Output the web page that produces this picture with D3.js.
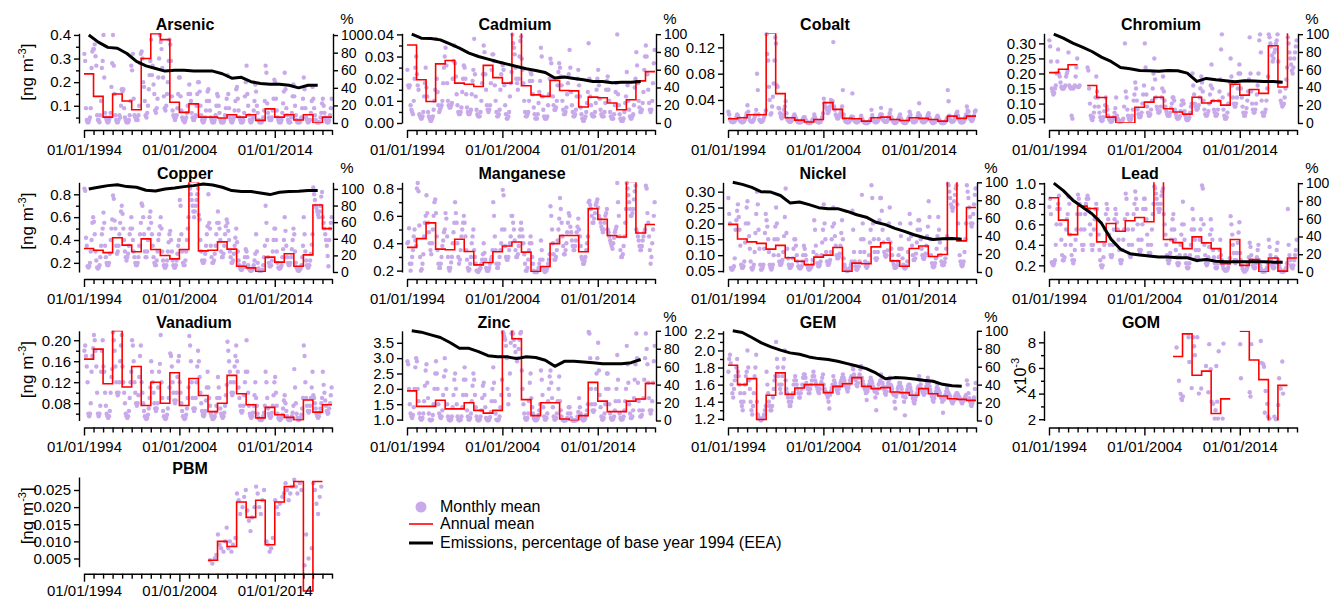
<!DOCTYPE html>
<html><head><meta charset="utf-8">
<script src="https://cdn.jsdelivr.net/npm/d3@7/dist/d3.min.js"></script>
<style>
body{margin:0;background:#fff;}
svg{font-family:"Liberation Sans",Arial,Helvetica,sans-serif;}
</style></head><body>
<svg id="chart" width="1329" height="599"></svg>
<script>
// ---------------- DATA ----------------
const annualYears = d3.range(1994, 2020);      // annual means 1994–2019
const emissionYears = d3.range(1994, 2019);    // emissions 1994–2018 (% of 1994)
const xTickLabels = ["01/01/1994", "01/01/2004", "01/01/2014"];
const legendLabels = ["Monthly mean", "Annual mean", "Emissions, percentage of base year 1994 (EEA)"];

// annual means (ng m-3; GOM in x10^-3)
const arsenicAnnual = [0.235,0.14,0.052,0.15,0.12,0.083,0.30,0.405,0.38,0.115,0.072,0.108,0.052,0.052,0.048,0.062,0.052,0.062,0.038,0.087,0.052,0.062,0.04,0.062,0.027,0.052];
const cadmiumAnnual = [0.0352,0.0195,0.0097,0.0267,0.0282,0.018,0.0175,0.0165,0.026,0.0205,0.018,0.06,0.0168,0.0127,0.012,0.0192,0.0147,0.0145,0.0072,0.0117,0.0114,0.009,0.006,0.0105,0.019,0.0232];
const cobaltAnnual = [0.0115,0.013,0.0176,0.0176,0.142,0.0497,0.013,0.0094,0.0066,0.0104,0.036,0.0257,0.012,0.0115,0.0079,0.013,0.014,0.0104,0.0089,0.013,0.012,0.0104,0.0079,0.0155,0.012,0.0155];
const chromiumAnnual = [0.203,0.214,0.229,null,0.16,0.12,0.055,0.035,0.035,0.088,0.105,0.121,0.083,0.072,0.065,0.121,0.102,0.109,0.095,0.164,0.128,0.147,0.134,0.292,0.155,0.34];
const copperAnnual = [0.326,0.31,0.29,0.42,0.355,0.297,0.41,0.317,0.264,0.235,0.317,0.91,0.305,0.311,0.384,0.32,0.17,0.156,0.124,0.25,0.206,0.28,0.17,0.27,0.706,0.5];
const manganeseAnnual = [0.37,0.434,0.549,0.357,0.353,0.429,0.34,0.242,0.259,0.338,0.38,0.409,0.335,0.193,0.23,0.397,0.456,0.456,0.338,0.653,0.574,0.456,0.446,0.852,0.475,0.537];
const nickelAnnual = [0.197,0.151,0.142,0.137,0.119,0.131,0.092,0.081,0.07,0.094,0.1,0.124,0.049,0.075,0.073,0.126,0.139,0.082,0.065,0.121,0.129,0.096,0.102,0.34,0.145,0.25];
const leadAnnual = [0.86,0.641,0.5,0.778,0.755,0.429,0.608,0.533,0.635,0.667,0.625,1.02,0.452,0.422,0.363,0.478,0.419,0.363,0.216,0.452,0.2,0.256,0.135,0.272,0.144,0.272];
const vanadiumAnnual = [0.164,0.183,0.117,0.218,0.111,0.15,0.0755,0.12,0.08,0.138,0.0755,0.127,0.0947,0.064,0.08,0.133,0.098,0.077,0.052,0.072,0.058,0.053,0.048,0.086,0.063,0.077];
const zincAnnual = [1.936,1.43,1.43,1.63,1.35,1.35,1.55,1.3,1.21,1.3,3.95,3.63,1.65,1.13,1.55,1.55,1.02,0.97,1.13,2.21,1.6,1.26,1.26,1.6,1.67,2.18];
const gemAnnual = [1.827,1.6,1.67,1.19,1.475,1.737,1.486,1.56,1.6,1.6,1.506,1.58,1.612,1.682,1.58,1.553,1.565,1.514,1.506,1.475,1.553,1.494,1.467,1.435,1.427,1.416];
const gomAnnual = [null,null,null,null,null,null,null,null,null,null,null,null,null,6.89,8.66,5.43,5.75,2.45,3.59,null,8.87,6.62,5.09,1.79,4.64,null];
const pbmAnnual = [null,null,null,null,null,null,null,null,null,null,null,null,null,0.0045,0.0100,0.0085,0.0215,0.017,0.022,0.009,0.0215,0.026,0.0275,-0.0045,0.0275,null];

// emissions, % of 1994 (EEA)
const arsenicEmission = [100,92,86,85,79,70,65,62,59,60,60,59,59,59,56,51,52,47,45,44,44,43,40,43,43];
const cadmiumEmission = [100,95.5,95.1,93.6,89.1,84.3,78.7,74.9,71.9,68.9,66.3,63.7,61,59.2,56.9,50.6,51.7,50.2,48.7,46.8,46.8,45.3,46,46,46.8];
const chromiumEmission = [100,95.5,89.9,85.4,80.5,74.2,69.3,62.5,61,59.2,58.8,58.4,59.2,58.8,56.2,46.8,50.2,48.7,47.6,46.4,47.6,47.2,46.8,46.8,46];
const copperEmission = [100,102,104,105,102.8,102,98.4,97.6,100,101.2,102.8,104,106,104.8,102,98,96.8,96.8,95.2,93.2,96,96.8,97.2,98,98];
const nickelEmission = [100,97.7,94.3,89.4,89.1,85.3,77,78.1,75.1,71.7,70.6,70.6,67.5,63.8,61.1,55.5,52.8,48.7,45.3,41.5,38.5,36.2,37,37.4,36.6];
const leadEmission = [100,91.6,80.9,73.3,65.6,55,37,25.6,20.6,19.1,17.9,16.8,16.8,16,16,13,14.1,12.2,11.5,11.5,11.5,11.5,11.5,11.1,11.1];
const zincEmission = [100,98.5,95.5,92.5,87,80.5,80.5,76.7,72.2,71,71,69,71,70.2,67.2,60.4,66,66,65.2,64.5,63.3,63.3,63.3,64.5,68];
const gemEmission = [100,98.1,92.5,86.6,82.1,78.4,75.4,73.9,70.9,69,67.9,66,63.4,60.8,57.8,53,46.6,47.8,47.4,46.3,44.8,43.7,40.3,38.8,38.1];

// monthly means, one row per year (Jan..Dec), in panel units
const arsenicMonthly = [ // x0.01 ng m-3, 1994–2019
[32,29,9,4,3,3,4,5,9,26,33,34],[34,36,31,27,6,4,4,3,6,12,26,29],[40,22,7,5,4,3,3,4,5,7,18,28],[40,27,15,6,4,3,3,4,6,5,10,17],
[16,17,9,5,4,3,3,3,4,6,12,27],[25,32,13,6,5,4,5,4,6,10,28,32],[33,30,20,18,12,6,5,7,10,17,23,29],[38,23,27,19,15,8,7,9,13,22,30,40],
[37,34,26,22,14,9,8,10,15,20,29,38],[36,29,14,8,6,5,4,5,6,9,15,22],[22,14,8,5,4,4,3,4,5,7,10,15],[19,15,12,7,5,4,4,5,6,10,15,20],
[20,16,10,6,4,3,3,4,5,8,12,16],[17,12,8,5,4,3,3,3,4,6,10,15],[14,10,7,4,3,3,3,3,4,6,9,13],[23,15,9,5,4,3,3,4,5,8,12,17],
[18,13,8,5,4,3,3,3,4,7,14,20],[27,15,10,6,4,3,3,4,5,8,12,19],[16,10,7,4,3,3,3,3,4,5,8,12],[27,24,11,7,5,4,4,4,5,8,13,21],
[20,13,8,5,4,3,3,3,4,7,11,16],[24,17,9,6,4,3,3,3,5,7,14,19],[14,10,6,4,3,3,3,3,4,5,9,13],[22,17,9,5,4,3,3,4,4,7,12,18],
[13,9,6,4,3,3,3,3,3,5,7,11],[13,10,7,5,4,3,3,3,4,6,9,13]];
const cadmiumMonthly = [ // x0.001
[24,17,16,17,8,6,5,4,10,20,25,30],[22,17,15,4,3,2,2,3,5,12,18,25],[16,12,5,3,2,1,1,2,3,6,10,15],[38,20,14,8,5,6,7,8,10,18,25,30],
[34,26,18,10,8,7,7,8,9,20,28,35],[27,21,13,8,5,4,4,5,7,14,20,26],[25,20,13,7,5,4,4,5,6,13,19,24],[38,22,12,6,4,3,3,3,5,10,18,22],
[35,32,22,15,8,6,5,6,8,18,24,31],[31,28,17,10,5,3,3,4,6,15,22,27],[26,24,17,8,4,2,2,3,5,12,18,23],[40,36,34,31,25,20,18,15,20,30,37,39],
[29,24,18,10,5,3,3,4,5,10,19,23],[22,19,13,7,4,2,2,2,4,9,14,19],[34,30,12,6,3,2,2,2,3,8,13,20],[29,27,20,12,8,6,6,7,10,17,23,27],
[25,21,17,10,6,4,4,5,7,13,18,22],[33,25,14,8,5,3,3,4,6,12,20,24],[17,12,7,4,2,1,1,2,3,5,9,14],[36,20,12,8,4,3,3,3,5,9,15,20],
[24,17,11,6,4,3,3,3,5,9,15,19],[21,15,10,5,3,2,2,2,4,8,14,18],[40,13,8,4,2,1,1,1,2,5,9,12],[23,17,10,6,3,2,2,3,4,8,16,20],
[32,26,18,10,7,5,5,6,9,14,24,30],[35,30,22,15,9,6,5,6,10,18,27,33]];
const cobaltMonthly = [ // x0.001
[22,18,11,8,7,7,6,7,8,10,14,18],[16,13,10,8,7,6,6,7,8,11,15,20],[32,22,14,9,8,7,7,8,10,14,18,25],[80,55,18,10,8,7,7,8,10,14,18,24],
[140,110,100,60,40,18,20,30,45,65,100,135],[126,62,60,28,27,20,15,12,14,18,25,30],[38,20,12,9,8,7,7,8,9,11,15,18],[15,12,9,7,6,6,6,6,7,9,12,14],
[14,10,8,6,5,5,5,5,6,8,10,12],[18,14,10,8,7,6,6,6,7,10,14,20],[42,35,30,28,25,20,22,26,30,40,35,38],[128,30,25,18,15,12,12,14,16,20,25,30],
[55,18,12,8,7,6,6,6,7,9,12,15],[50,14,10,8,7,6,6,7,8,10,12,16],[12,9,7,6,5,5,5,5,6,7,9,11],[25,17,12,8,7,6,6,7,8,10,14,18],
[28,18,12,9,8,7,7,7,8,11,15,20],[25,14,10,8,6,5,5,6,7,9,12,15],[18,12,9,7,6,5,5,5,6,8,11,14],[22,18,12,9,7,6,6,7,8,11,15,20],
[35,16,12,8,7,6,6,7,8,10,14,18],[20,14,10,8,6,5,5,6,7,9,13,16],[14,10,8,6,5,5,5,5,6,7,9,12],[55,38,16,10,8,7,7,8,9,12,16,20],
[22,16,11,8,6,6,6,6,7,10,14,18],[30,24,22,15,12,10,8,9,12,16,22,24]];
const chromiumMonthly = [ // x0.001
[310,290,240,150,140,130,135,150,160,200,240,280],[200,190,170,155,150,150,150,155,160,190,200,210],[270,160,155,150,60,50,150,155,160,190,220,250],[155,155,160,null,null,null,null,null,null,null,null,null],
[220,210,150,100,60,50,45,55,70,90,120,190],[140,120,90,70,55,45,42,45,55,75,95,120],[90,80,60,50,45,40,40,42,48,55,70,85],[120,60,50,45,40,40,40,42,45,50,90,300],
[140,120,80,60,50,45,45,50,60,80,110,130],[170,150,110,80,65,55,55,60,70,100,130,160],[300,220,130,90,70,60,60,65,80,110,150,200],[250,180,120,90,80,70,70,75,90,120,150,190],
[140,110,90,75,65,60,60,60,70,85,100,120],[120,110,80,65,55,50,50,52,58,75,95,110],[110,100,75,60,50,45,45,48,55,70,90,100],[200,160,130,100,90,80,80,85,95,120,150,190],
[170,140,110,80,65,60,60,65,75,100,130,160],[230,150,110,80,70,60,60,65,80,110,140,180],[280,330,120,80,60,50,50,55,70,100,130,170],[250,190,160,120,100,90,90,100,120,150,200,230],
[200,150,120,90,70,60,60,70,85,110,140,180],[320,200,140,100,80,70,70,80,100,130,160,200],[310,330,270,110,70,60,60,70,80,110,150,190],[330,320,300,290,260,240,250,270,280,300,310,330],
[240,170,140,110,100,90,95,100,120,150,180,220],[320,300,270,250,230,210,200,220,250,270,290,310]];
const copperMonthly = [ // x0.01
[85,83,42,35,17,16,17,20,30,40,55,60],[56,45,30,22,16,15,16,18,25,35,45,50],[64,55,35,25,20,18,18,20,28,40,50,58],[79,76,57,50,35,28,30,35,45,55,65,70],
[63,50,40,30,25,22,25,28,35,45,50,60],[50,40,30,25,20,18,18,20,25,35,45,55],[72,70,60,45,30,25,25,30,40,50,60,65],[55,45,35,25,20,18,18,22,30,40,45,52],
[60,50,30,22,18,16,16,18,22,30,38,45],[48,40,30,22,18,16,16,18,22,28,35,40],[75,70,45,30,20,18,18,22,30,40,50,60],[88,85,80,75,70,65,60,65,70,75,80,85],
[62,58,40,30,22,20,20,22,28,35,45,52],[80,55,50,35,25,20,20,22,28,35,45,55],[65,55,50,40,30,25,25,28,35,45,52,58],[55,48,40,30,25,20,20,22,28,35,42,50],
[38,30,22,18,15,14,14,15,17,20,25,32],[30,25,18,15,14,13,13,14,15,18,22,28],[45,30,20,15,13,13,13,13,14,18,25,35],[70,55,40,25,20,17,17,18,22,30,40,50],
[50,40,30,20,16,15,15,16,18,25,32,40],[60,48,35,25,20,18,18,20,25,32,40,50],[45,30,20,16,14,13,13,14,15,18,25,35],[60,45,30,22,18,16,16,18,22,28,36,45],
[86,80,75,70,68,65,62,60,65,70,78,82],[60,55,50,45,40,35,26,17,40,50,55,60]];
const manganeseMonthly = [ // x0.01
[40,41,51,25,20,25,30,35,45,50,42,38],[80,84,78,53,30,20,21,25,32,45,55,60],[75,62,55,48,40,35,32,40,50,60,70,72],[62,45,35,25,22,22,25,30,38,42,48,50],
[62,58,45,30,22,20,22,26,30,40,48,55],[70,62,55,40,30,25,28,35,45,50,55,60],[55,45,35,28,22,20,21,25,30,40,45,50],[35,30,25,20,20,19,20,21,22,25,28,32],
[40,33,28,22,20,20,20,22,25,28,30,35],[70,60,45,35,25,22,22,25,30,35,40,50],[79,75,50,38,30,28,28,30,35,40,45,60],[60,55,50,42,35,30,30,32,38,45,50,55],
[50,45,40,32,25,20,20,22,28,35,40,45],[40,30,25,20,19,19,19,19,20,22,25,28],[42,35,28,22,20,19,20,20,22,25,28,32],[67,60,50,40,32,28,28,30,35,42,50,58],
[73,65,55,45,38,32,32,35,40,48,55,62],[60,52,48,42,38,35,35,38,42,48,52,58],[50,45,38,30,28,25,25,27,30,35,40,45],[70,71,68,65,60,55,55,58,62,68,70,72],
[66,60,58,55,52,50,48,50,55,60,62,65],[50,48,45,42,40,38,36,40,44,48,50,52],[84,70,60,45,35,30,30,32,38,45,55,65],[84,80,75,70,65,60,60,62,65,72,78,82],
[50,48,45,42,38,35,35,38,42,45,48,50],[82,80,62,55,45,35,25,30,40,50,60,70]];
const nickelMonthly = [ // x0.001
[280,230,200,60,55,55,60,65,90,180,210,240],[260,220,180,130,70,60,60,65,80,140,200,250],[270,200,160,120,80,60,55,60,70,110,170,230],[300,260,180,120,70,55,55,60,70,120,170,230],
[210,190,150,110,70,60,55,60,70,100,150,190],[250,200,150,100,80,70,70,75,85,110,160,220],[310,170,120,90,70,60,60,65,70,90,120,150],[150,130,100,80,65,60,58,60,65,80,100,130],
[120,100,85,70,60,55,55,58,62,70,85,110],[210,180,130,100,75,65,65,70,80,100,140,180],[260,200,150,110,80,70,70,75,85,110,150,190],[250,200,160,130,100,90,90,95,105,130,170,210],
[150,90,70,60,55,50,50,52,55,60,70,80],[240,180,110,80,65,55,55,60,65,80,110,150],[290,200,150,110,80,65,60,65,75,100,140,180],[320,280,200,150,110,90,85,90,110,150,210,280],
[280,240,180,140,110,100,95,100,115,150,200,250],[140,120,100,80,70,60,60,62,68,80,100,120],[200,160,120,90,70,60,58,60,65,80,110,150],[230,200,160,130,100,85,85,90,105,140,180,210],
[210,180,150,120,100,90,88,95,105,130,160,190],[270,220,150,100,75,65,62,65,75,90,120,160],[220,180,140,100,80,70,68,70,78,90,120,160],[325,320,300,280,260,250,240,250,270,290,310,320],
[260,200,150,100,80,70,65,70,80,110,150,200],[320,300,280,250,220,200,190,200,230,260,290,310]];
const leadMonthly = [ // x0.01
[77,85,70,23,21,20,22,25,40,60,75,80],[88,75,60,45,30,25,25,28,40,55,65,70],[87,80,50,40,30,25,22,25,35,45,55,70],[89,85,80,70,55,40,35,40,55,70,80,85],
[88,85,75,60,50,40,35,40,55,65,75,80],[75,65,50,35,25,20,18,20,28,40,55,70],[80,75,65,50,40,30,28,30,40,55,65,75],[70,62,55,45,35,25,22,25,35,45,55,65],
[90,85,70,55,40,30,28,30,40,55,70,80],[92,85,75,60,45,35,32,35,45,60,75,85],[85,75,65,50,40,32,30,32,40,55,70,80],[97,95,90,85,80,75,72,75,80,88,92,95],
[70,60,50,40,30,25,22,25,32,45,55,65],[70,55,45,35,28,22,20,22,30,40,50,60],[82,60,45,30,22,18,17,18,22,30,40,55],[75,65,55,45,35,28,25,28,35,45,55,65],
[98,95,60,40,30,22,20,22,28,38,50,65],[55,45,35,28,22,18,17,18,22,28,35,45],[30,25,20,17,16,15,15,15,16,18,22,27],[68,60,50,40,32,25,22,25,32,42,52,62],
[32,25,20,17,15,14,14,15,16,18,22,28],[42,38,30,25,20,18,17,18,22,28,35,40],[25,20,17,15,14,14,14,14,15,16,18,22],[45,38,30,25,20,18,17,18,22,28,35,42],
[25,20,17,15,14,14,14,14,15,16,18,22],[75,40,30,25,20,18,17,20,25,30,35,45]];
const vanadiumMonthly = [ // x0.001
[180,190,170,150,120,60,55,60,80,140,170,185],[210,200,180,150,100,60,55,60,75,140,180,200],[150,140,100,75,60,55,52,55,65,100,130,145],[215,200,180,150,120,100,95,100,120,160,190,210],
[150,120,100,80,60,55,52,55,65,90,120,140],[200,190,160,120,100,80,75,80,95,130,170,190],[120,100,80,65,55,52,50,52,58,70,90,110],[160,140,120,100,80,70,65,70,80,110,140,155],
[210,120,90,65,55,52,50,52,58,70,90,110],[175,170,150,120,100,85,80,85,100,130,160,170],[120,100,80,65,55,52,50,52,58,70,90,110],[208,190,160,120,90,70,65,70,90,120,150,180],
[160,130,100,80,65,58,55,58,65,85,110,140],[110,90,75,60,55,50,50,52,55,62,75,90],[130,110,90,70,60,55,52,55,62,75,95,115],[197,180,160,140,120,100,95,100,120,150,170,190],
[160,140,110,90,75,65,62,65,75,95,120,140],[200,140,100,75,60,55,52,55,62,75,95,120],[90,75,60,52,50,48,48,48,50,55,62,75],[140,120,90,70,60,55,52,55,62,75,95,120],
[130,100,75,60,52,50,48,50,52,58,70,85],[95,80,65,55,50,48,48,48,50,55,62,75],[145,110,80,60,52,48,48,50,52,58,70,90],[190,170,120,90,75,65,62,65,75,90,110,140],
[95,90,80,70,60,55,52,55,62,70,80,90],[140,115,100,85,75,65,60,62,70,80,95,110]];
const zincMonthly = [ // x0.01
[290,280,200,150,120,110,105,115,140,200,270,300],[290,200,160,120,105,100,100,105,120,160,210,260],[280,220,170,120,100,98,98,100,115,150,200,250],[290,250,200,150,120,110,105,110,130,180,240,300],
[260,200,150,110,100,98,98,100,110,140,180,230],[250,200,150,110,100,98,98,100,110,140,180,230],[270,230,180,130,110,100,100,105,120,160,210,250],[230,180,140,110,100,98,98,100,110,130,170,210],
[220,180,140,105,100,98,98,100,108,125,160,200],[270,220,160,120,100,98,98,100,110,140,180,230],[385,380,370,360,340,300,200,150,180,250,350,380],[385,380,360,340,320,300,290,300,330,360,380,385],
[260,200,150,120,105,100,100,105,120,160,220,250],[170,140,120,105,100,98,98,100,105,115,130,150],[260,230,180,140,110,100,100,105,120,160,200,240],[260,220,170,140,110,100,100,105,120,160,200,240],
[160,130,110,100,98,97,97,98,100,105,120,140],[140,120,105,100,97,97,97,97,98,100,110,125],[170,140,120,105,100,98,98,100,105,115,130,150],[385,380,300,200,150,130,125,130,150,200,250,300],
[350,260,180,140,110,100,100,105,120,150,200,250],[250,200,150,120,105,100,100,102,110,130,160,200],[310,230,160,120,105,100,100,102,110,130,160,200],[340,280,220,150,120,105,105,110,130,170,230,280],
[380,300,220,160,130,110,110,115,130,170,230,300],[380,330,280,220,170,130,120,130,160,220,290,340]];
const gemMonthly = [ // x0.01
[175,190,195,185,160,150,145,155,165,170,180,190],[175,170,160,150,140,135,130,140,150,160,170,175],[200,180,165,155,140,130,125,135,150,170,180,195],[140,125,122,120,119,118,119,120,122,125,130,135],
[175,160,150,140,135,130,130,135,145,155,165,170],[210,190,180,170,160,155,150,160,170,180,190,200],[165,155,150,145,140,135,135,140,145,150,160,165],[170,165,160,155,150,145,145,150,155,160,168,172],
[172,168,162,158,155,150,150,155,160,165,170,175],[170,165,162,158,155,152,150,155,160,163,168,172],[160,155,152,150,148,145,140,132,148,152,156,160],[170,165,162,158,155,152,150,155,158,162,165,168],
[172,168,165,160,158,155,152,156,160,165,168,170],[182,178,172,168,165,160,158,162,168,172,178,182],[168,164,160,156,154,150,142,152,156,160,164,168],[165,162,158,155,152,145,130,150,155,160,162,165],
[172,168,162,158,154,150,148,152,158,162,165,168],[160,158,155,150,148,140,132,146,150,155,158,162],[162,158,155,150,146,140,124,145,150,154,158,160],[160,156,152,148,144,140,138,142,146,150,155,158],
[170,165,160,155,152,150,148,150,154,158,162,168],[162,158,154,150,146,142,140,144,148,152,156,160],[155,152,150,146,144,140,127,142,145,148,152,156],[152,150,148,146,142,140,138,140,142,146,148,150],
[150,148,146,144,142,140,138,140,142,144,146,148],[165,160,150,144,140,136,135,138,142,145,155,162]];
const gomMonthly = [ // x10^-3 ng m-3, 2007–2018
[null,null,null,null,7.6,null,null,5.0,null,3.98,3.6,3.5],[3.77,null,null,null,null,null,null,8.4,6.46,null,null,4.43],
[null,8.4,7.7,7.0,null,null,8.4,null,4.0,null,null,4.4],[null,null,null,null,null,6.15,null,null,4.1,7.86,null,5.9],
[3.37,null,3.2,null,2.05,2.7,6.15,3.37,2.05,7.3,null,null],[null,null,2.05,7.9,null,null,null,null,null,null,null,null],
[null,null,null,null,null,null,null,null,null,null,null,null],[7.86,5.2,null,null,null,null,null,null,null,null,null,null],
[4.1,3.77,7.86,null,null,null,null,null,null,null,null,null],[null,null,8.1,6.4,null,6.3,6.1,2.5,4.2,null,3.2,2.2],
[null,2.05,null,null,null,null,null,2.2,null,2.0,null,null],[3.1,5.2,null,4.4,null,6.5,4.0,null,null,null,null,null]];
const pbmMonthly = [ // x0.001 ng m-3, 2007–2018
[null,null,4.5,null,null,3.5,null,null,5.0,null,6,null],[12,null,9,null,8,null,null,7,null,10,null,14],
[null,8,null,10,null,7,null,9,null,null,11,null],[24,null,22,null,18,null,null,20,null,23,null,25],
[null,19,null,16,null,13,null,17,null,null,20,null],[26,null,24,null,20,null,18,null,22,null,25,null],
[null,10,null,9,null,7,null,8,null,11,null,null],[22,null,20,null,18,null,21,null,null,23,null,24],
[null,27,null,25,null,22,null,24,null,26,null,null],[28,null,26,null,24,null,null,27,null,25,null,null],
[null,3,null,12,null,null,5,null,null,null,8,null],[27,null,25,null,21,null,18,null,23,null,26,null]];

// ---------------- PANEL SETUP ----------------
const panels = [
 {name:"Arsenic",  col:0,row:0,annual:arsenicAnnual,monthly:arsenicMonthly,mStart:1994,unit:0.01,emission:arsenicEmission,yDomain:[0.027,0.407],ticks:[0.1,0.2,0.3,0.4],minor:[0.05,0.15,0.25,0.35],fmt:".1f",rDomain:[0,102],titleDx:-23,ylab:"ng"},
 {name:"Cadmium",  col:1,row:0,annual:cadmiumAnnual,monthly:cadmiumMonthly,mStart:1994,unit:0.001,emission:cadmiumEmission,yDomain:[0,0.0405],ticks:[0,0.01,0.02,0.03,0.04],minor:[0.005,0.015,0.025,0.035],fmt:".2f",rDomain:[0,101],titleDx:-16},
 {name:"Cobalt",   col:2,row:0,annual:cobaltAnnual,monthly:cobaltMonthly,mStart:1994,unit:0.001,yDomain:[0.005,0.1414],ticks:[0.04,0.08,0.12],minor:[0.02,0.06,0.10,0.14],fmt:".2f",titleDx:-27},
 {name:"Chromium", col:3,row:0,annual:chromiumAnnual,monthly:chromiumMonthly,mStart:1994,unit:0.001,emission:chromiumEmission,yDomain:[0.0355,0.3335],ticks:[0.05,0.10,0.15,0.20,0.25,0.30],minor:[],fmt:".2f",rDomain:[0,101],titleDx:-12},
 {name:"Copper",   col:0,row:1,annual:copperAnnual,monthly:copperMonthly,mStart:1994,unit:0.01,emission:copperEmission,yDomain:[0.12,0.905],ticks:[0.2,0.4,0.6,0.8],minor:[0.3,0.5,0.7],fmt:".1f",rDomain:[0,108],titleDx:-23,ylab:"ng"},
 {name:"Manganese",col:1,row:1,annual:manganeseAnnual,monthly:manganeseMonthly,mStart:1994,unit:0.01,yDomain:[0.19,0.845],ticks:[0.2,0.4,0.6,0.8],minor:[0.3,0.5,0.7],fmt:".1f",titleDx:-9},
 {name:"Nickel",   col:2,row:1,annual:nickelAnnual,monthly:nickelMonthly,mStart:1994,unit:0.001,emission:nickelEmission,yDomain:[0.047,0.3295],ticks:[0.05,0.10,0.15,0.20,0.25,0.30],minor:[],fmt:".2f",rDomain:[0,100],titleDx:-29},
 {name:"Lead",     col:3,row:1,annual:leadAnnual,monthly:leadMonthly,mStart:1994,unit:0.01,emission:leadEmission,yDomain:[0.135,1.01],ticks:[0.2,0.4,0.6,0.8,1.0],minor:[0.3,0.5,0.7,0.9],fmt:".1f",rDomain:[0,101],titleDx:-33},
 {name:"Vanadium", col:0,row:2,annual:vanadiumAnnual,monthly:vanadiumMonthly,mStart:1994,unit:0.001,yDomain:[0.047,0.218],ticks:[0.08,0.12,0.16,0.20],minor:[0.06,0.10,0.14,0.18],fmt:".2f",titleDx:-14,ylab:"ng"},
 {name:"Zinc",     col:1,row:2,annual:zincAnnual,monthly:zincMonthly,mStart:1994,unit:0.01,emission:zincEmission,yDomain:[0.97,3.89],ticks:[1.0,1.5,2.0,2.5,3.0,3.5],minor:[],fmt:".1f",rDomain:[0,100],titleDx:-37},
 {name:"GEM",      col:2,row:2,annual:gemAnnual,monthly:gemMonthly,mStart:1994,unit:0.01,emission:gemEmission,yDomain:[1.18,2.23],ticks:[1.2,1.4,1.6,1.8,2.0,2.2],minor:[1.3,1.5,1.7,1.9,2.1],fmt:".1f",rDomain:[0,100],titleDx:-34},
 {name:"GOM",      col:3,row:2,annual:gomAnnual,monthly:gomMonthly,mStart:2007,unit:1,yDomain:[1.9,8.9],ticks:[2,4,6,8],minor:[3,5,7],fmt:"d",titleDx:-32,ylab:"x10"},
 {name:"PBM",      col:0,row:3,annual:pbmAnnual,monthly:pbmMonthly,mStart:2007,unit:0.001,yDomain:[0.0026,0.0288],ticks:[0.005,0.010,0.015,0.020,0.025],minor:[],fmt:".3f",titleDx:-18,ylab:"ng",openBottom:true}
];

const colX = [84, 407, 728, 1049];
const plotW = 248;
const rowTop = [33.3, 182.3, 330.8, 477];
const plotH = 89.7;
const DOT = "#c8aaea", RED = "#ff0000", BLACK = "#000";
const AXW = 1.4;

const svg = d3.select("#chart");
const defs = svg.append("defs");

function styleAxis(g, fs) {
  g.attr("font-size", null).attr("font-family", null);
  g.selectAll("path.domain").attr("stroke", "#000").attr("stroke-width", AXW);
  g.selectAll(".tick line").attr("stroke", "#000").attr("stroke-width", AXW);
  g.selectAll(".tick text").attr("fill", "#000").style("font-size", fs + "px");
}

panels.forEach((p, i) => {
  const x0 = colX[p.col], top = rowTop[p.row], bottom = top + plotH;
  const x = d3.scaleLinear().domain([1994, 2020]).range([x0, x0 + plotW]);
  const y = d3.scaleLinear().domain(p.yDomain).range([bottom, top]);
  const g = svg.append("g");

  const clipId = "clip" + i;
  defs.append("clipPath").attr("id", clipId).append("rect")
    .attr("x", x0 - 2).attr("y", top).attr("width", plotW + 4)
    .attr("height", p.openBottom ? plotH + 40 : plotH);

  // monthly dots
  const dots = [];
  p.monthly.forEach((row, yi) => row.forEach((v, m) => {
    if (v == null) return;
    const val = v * p.unit;
    if (val < p.yDomain[0] || val > p.yDomain[1]) return;
    dots.push({t: p.mStart + yi + (m + 0.5) / 12, v: val});
  }));
  g.append("g").selectAll("circle").data(dots).join("circle")
    .attr("cx", d => x(d.t)).attr("cy", d => y(d.v)).attr("r", 2.2).attr("fill", DOT);

  // annual mean steps
  const runs = []; let cur = null;
  p.annual.forEach((v, k) => {
    if (v == null) { cur = null; return; }
    if (!cur) { cur = []; runs.push(cur); }
    cur.push([annualYears[k], v]);
  });
  runs.forEach(r => { const last = r[r.length - 1]; r.push([last[0] + 1, last[1]]); });
  const stepLine = d3.line().x(d => x(d[0])).y(d => y(d[1])).curve(d3.curveStepAfter);
  g.append("g").attr("clip-path", `url(#${clipId})`).selectAll("path").data(runs).join("path")
    .attr("d", stepLine).attr("fill", "none").attr("stroke", RED).attr("stroke-width", 1.6);

  // emissions line + right axis
  if (p.emission) {
    const r = d3.scaleLinear().domain(p.rDomain).range([bottom, top]);
    const eLine = d3.line().x((d, k) => x(emissionYears[k] + 0.5)).y(d => r(d));
    g.append("path").datum(p.emission).attr("d", eLine).attr("fill", "none")
      .attr("stroke", BLACK).attr("stroke-width", 3).attr("stroke-linejoin", "round");
    const ra = g.append("g").attr("transform", `translate(${x0 + plotW + 1},0)`)
      .call(d3.axisRight(r).tickValues([0, 20, 40, 60, 80, 100]).tickSize(5).tickSizeOuter(0).tickPadding(3));
    styleAxis(ra, 14);
    g.append("text").attr("x", x0 + plotW + 15).attr("y", top - 9).attr("text-anchor", "middle")
      .style("font-size", "15px").text("%");
  }

  // left axis
  const la = g.append("g").attr("transform", `translate(${x0 - 5},0)`)
    .call(d3.axisLeft(y).tickValues(p.ticks).tickFormat(d3.format(p.fmt)).tickSize(5).tickSizeOuter(0).tickPadding(3));
  styleAxis(la, 15);
  if (p.minor.length) {
    const ma = g.append("g").attr("transform", `translate(${x0 - 5},0)`)
      .call(d3.axisLeft(y).tickValues(p.minor).tickFormat("").tickSize(3));
    ma.select("path.domain").remove();
    styleAxis(ma, 15);
  }

  // x axis
  const majors = [1994, 2004, 2014];
  const xa = g.append("g").attr("transform", `translate(0,${bottom + 7})`)
    .call(d3.axisBottom(x).tickValues(d3.range(1994, 2021)).tickSize(5).tickSizeOuter(0).tickPadding(p.row === 3 ? 7 : 9)
      .tickFormat(d => { const k = majors.indexOf(d); return k >= 0 ? xTickLabels[k] : ""; }));
  styleAxis(xa, 15);
  xa.selectAll(".tick line").attr("y2", d => majors.includes(d) ? 8 : 5);

  // title
  g.append("text").attr("x", x0 + plotW / 2 + p.titleDx).attr("y", top - 3)
    .attr("text-anchor", "middle").style("font-size", "16px").style("font-weight", "bold").text(p.name);

  // y label
  if (p.ylab) {
    const isNg = p.ylab === "ng";
    const lx = isNg ? 33 : x0 - 23;
    const ly = top + plotH / 2 - (isNg ? 6 : 0);
    const t = g.append("text").attr("transform", `translate(${lx},${ly}) rotate(-90)`)
      .attr("text-anchor", "middle").style("font-size", isNg ? "17px" : "16px");
    t.append("tspan").text(isNg ? "[ng m" : "x10");
    t.append("tspan").attr("dy", -7).style("font-size", "11px").text("-3");
    if (isNg) t.append("tspan").attr("dy", 7).text("]");
  }
});

// legend
const lg = svg.append("g");
lg.append("circle").attr("cx", 421).attr("cy", 507).attr("r", 5.5).attr("fill", DOT);
lg.append("line").attr("x1", 409).attr("x2", 433).attr("y1", 524).attr("y2", 524).attr("stroke", RED).attr("stroke-width", 1.6);
lg.append("line").attr("x1", 409).attr("x2", 433).attr("y1", 543).attr("y2", 543).attr("stroke", BLACK).attr("stroke-width", 3);
[512, 529, 548].forEach((yy, k) => {
  lg.append("text").attr("x", 440).attr("y", yy).style("font-size", "16px").text(legendLabels[k]);
});
</script>
</body></html>
